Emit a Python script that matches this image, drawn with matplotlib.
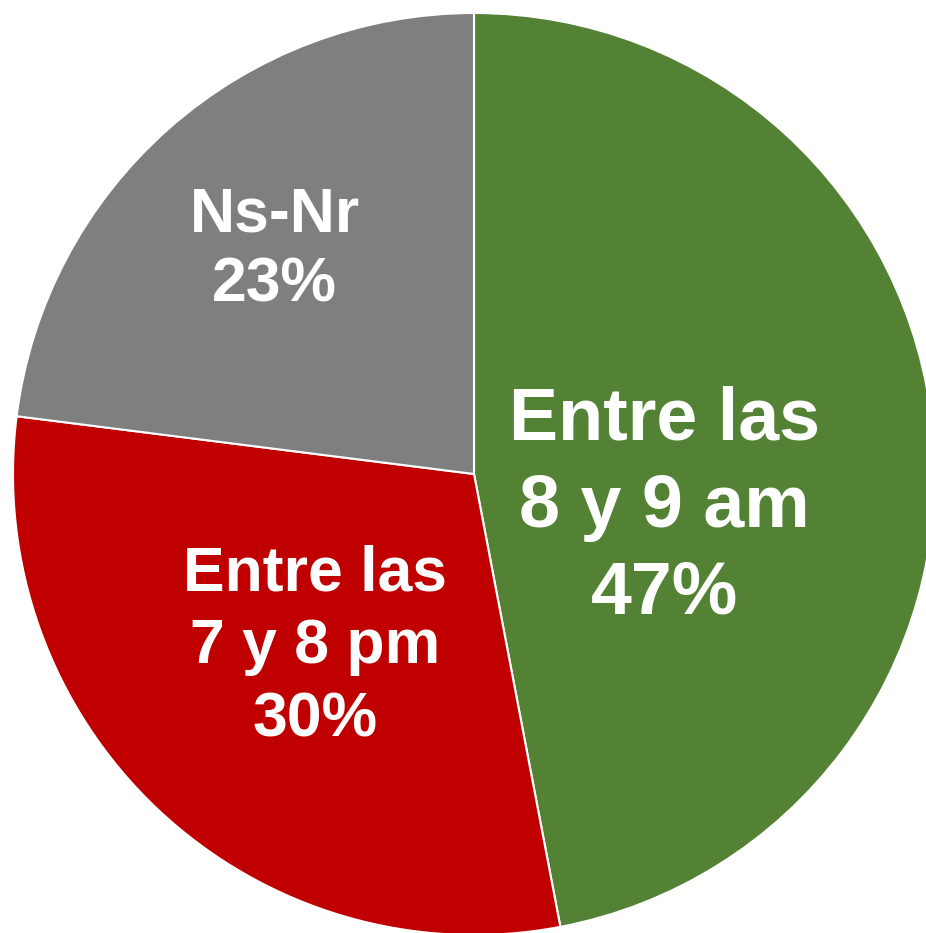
import matplotlib
matplotlib.use('Agg')
import matplotlib.pyplot as plt

labels = ['Entre las\n8 y 9 am\n47%', 'Entre las\n7 y 8 pm\n30%', 'Ns-Nr\n23%']
values = [47, 30, 23]
colors = ['#548235', '#C00000', '#7F7F7F']

# label centres (fraction of radius) and font sizes
label_pos = [(0.414, -0.072), (-0.345, -0.375), (-0.432, 0.486)]
label_size = [53, 45, 45]
label_spacing = [1.33, 1.3, 1.25]

plt.rcParams['font.family'] = ['Liberation Sans', 'DejaVu Sans']

fig = plt.figure(figsize=(9.26, 9.33), dpi=100)
ax = fig.add_axes([13 / 926, -2 / 933, 922 / 926, 922 / 933])
ax.pie(values, colors=colors, startangle=90, counterclock=False,
       wedgeprops=dict(edgecolor='white', linewidth=1.5))
for lbl, (x, y), fs, ls in zip(labels, label_pos, label_size, label_spacing):
    ax.text(x, y, lbl, ha='center', va='center', color='white',
            fontsize=fs, fontweight='bold', linespacing=ls)
ax.set_xlim(-1, 1)
ax.set_ylim(-1, 1)
ax.set_aspect('equal')
ax.axis('off')
plt.savefig('out.png', dpi=100)
